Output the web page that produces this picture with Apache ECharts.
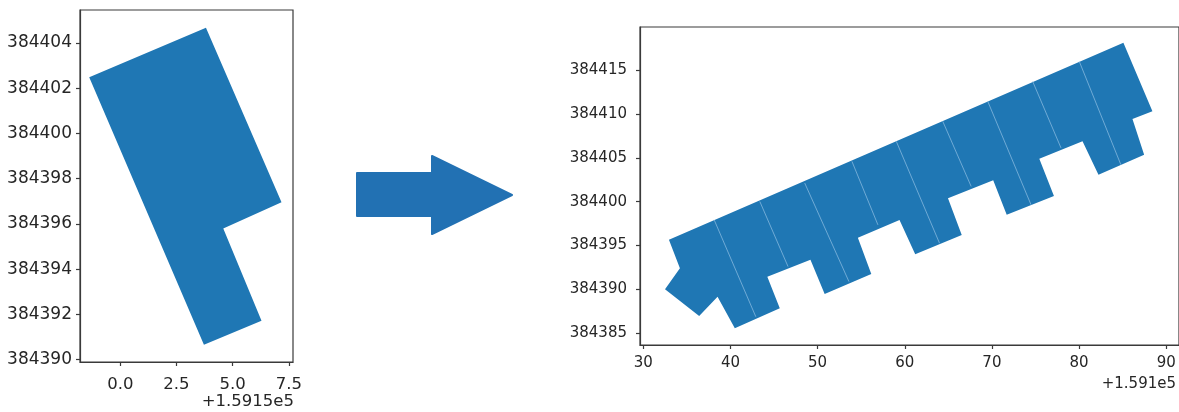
<!DOCTYPE html>
<html>
<head>
<meta charset="utf-8">
<script src="https://cdn.jsdelivr.net/npm/echarts@6/dist/echarts.min.js"></script>
<style>
  html, body { margin: 0; padding: 0; background: #fff; }
  #chart { width: 1179px; height: 412px; }
</style>
</head>
<body>
<div id="chart"></div>
<script>
// Building footprint before merging (single lot), projected coordinates
const X_BASE_LEFT = 159150;
const lotOutline = [
  [159148.62, 384402.49], [159153.81, 384404.68], [159157.17, 384396.96],
  [159154.58, 384395.79], [159156.28, 384391.72], [159153.72, 384390.65]
];
const leftXTicks = [159150, 159152.5, 159155, 159157.5];
const leftYTicks = [384390, 384392, 384394, 384396, 384398, 384400, 384402, 384404];

// Row of terraced units after merging: outer outline plus party walls
const X_BASE_RIGHT = 159100;
const rowOutline = [
  [159132.94, 384395.65], [159185.09, 384418.10], [159188.42, 384410.30],
  [159186.13, 384409.43], [159187.47, 384405.35], [159182.23, 384403.07],
  [159180.40, 384406.87], [159175.44, 384404.90], [159177.12, 384400.65],
  [159171.70, 384398.50], [159170.15, 384402.45], [159164.96, 384400.40],
  [159166.54, 384396.20], [159161.20, 384394.00], [159159.40, 384397.90],
  [159154.62, 384395.90], [159156.16, 384391.77], [159150.81, 384389.49],
  [159149.18, 384393.37], [159144.23, 384391.45], [159145.66, 384387.85],
  [159140.50, 384385.57], [159138.52, 384389.18], [159136.41, 384386.97],
  [159132.49, 384390.02], [159134.20, 384392.42]
];
const partyWalls = [
  [[159138.13, 384397.93], [159142.91, 384386.89]],
  [[159143.37, 384400.02], [159146.61, 384392.60]],
  [[159148.52, 384402.12], [159153.60, 384390.89]],
  [[159153.94, 384404.59], [159156.92, 384397.36]],
  [[159159.03, 384406.87], [159163.99, 384395.27]],
  [[159164.36, 384409.16], [159167.62, 384401.74]],
  [[159169.52, 384411.44], [159174.49, 384399.65]],
  [[159174.67, 384413.72], [159177.93, 384406.12]],
  [[159180.02, 384416.00], [159184.80, 384404.21]]
];
const rightXTicks = [159130, 159140, 159150, 159160, 159170, 159180, 159190];
const rightYTicks = [384385, 384390, 384395, 384400, 384405, 384410, 384415];

const FILL = '#1f77b4';
const FONT = 'DejaVu Sans';
const TEXT = '#262626';
const SPINE = '#3a3a3a';

function polygonSeries(gridIdx, shapes) {
  return {
    type: 'custom',
    xAxisIndex: gridIdx, yAxisIndex: gridIdx,
    coordinateSystem: 'cartesian2d',
    data: shapes.map(s => s[0]),
    silent: true,
    renderItem: (params, api) => ({
      type: 'polygon',
      shape: { points: shapes[params.dataIndex].map(p => api.coord(p)) },
      style: { fill: FILL }
    })
  };
}

function wallSeries(gridIdx, walls) {
  return {
    type: 'custom',
    xAxisIndex: gridIdx, yAxisIndex: gridIdx,
    coordinateSystem: 'cartesian2d',
    data: walls.map(w => w[0]),
    silent: true,
    z: 3,
    renderItem: (params, api) => {
      const a = api.coord(walls[params.dataIndex][0]);
      const b = api.coord(walls[params.dataIndex][1]);
      return {
        type: 'line',
        shape: { x1: a[0], y1: a[1], x2: b[0], y2: b[1] },
        style: { stroke: 'rgba(150,195,230,0.75)', lineWidth: 0.9 }
      };
    }
  };
}

function valueAxis(gridIdx, min, max, ticks, fmt, fontSize, margin) {
  return {
    type: 'value', gridIndex: gridIdx, min, max,
    axisLine: { show: true, onZero: false, lineStyle: { color: SPINE, width: 1.2 } },
    axisTick: { show: true, length: 4, customValues: ticks, lineStyle: { color: SPINE, width: 1.2 } },
    axisLabel: { customValues: ticks, formatter: fmt, fontFamily: FONT, fontSize, color: TEXT, margin },
    splitLine: { show: false }
  };
}

const chart = echarts.init(document.getElementById('chart'), null, { renderer: 'canvas' });
chart.setOption({
  animation: false,
  backgroundColor: '#ffffff',
  grid: [
    { left: 80, top: 10, width: 213, height: 352, show: true, borderColor: SPINE, borderWidth: 1.2, backgroundColor: 'transparent' },
    { left: 640, top: 27, width: 540, height: 318, show: true, borderColor: SPINE, borderWidth: 1.2, backgroundColor: 'transparent' }
  ],
  xAxis: [
    valueAxis(0, 159148.21, 159157.68, leftXTicks, v => (v - X_BASE_LEFT).toFixed(1), 16.5, 14),
    valueAxis(1, 159129.62, 159191.47, rightXTicks, v => (v - X_BASE_RIGHT).toFixed(0), 15, 11)
  ],
  yAxis: [
    valueAxis(0, 384389.89, 384405.46, leftYTicks, v => String(v), 17, 8),
    valueAxis(1, 384383.67, 384419.9, rightYTicks, v => String(v), 15, 13)
  ],
  series: [
    polygonSeries(0, [lotOutline]),
    polygonSeries(1, [rowOutline]),
    wallSeries(1, partyWalls)
  ],
  graphic: [
    {
      type: 'text', right: 1179 - 294, top: 393,
      style: { text: '+' + (X_BASE_LEFT / 1e5).toString() + 'e5', font: '16.5px "DejaVu Sans"', fill: TEXT, textAlign: 'right' }
    },
    {
      type: 'text', right: 3, top: 377,
      style: { text: '+' + (X_BASE_RIGHT / 1e5).toString() + 'e5', font: '15px "DejaVu Sans"', fill: TEXT, textAlign: 'right' }
    },
    {
      type: 'polygon',
      shape: { points: [[357, 173], [432, 173], [432, 156], [512, 195], [432, 234], [432, 216], [357, 216]] },
      style: { fill: '#2271b3', stroke: '#2271b3', lineWidth: 2, lineJoin: 'round' }
    }
  ]
});
</script>
</body>
</html>
